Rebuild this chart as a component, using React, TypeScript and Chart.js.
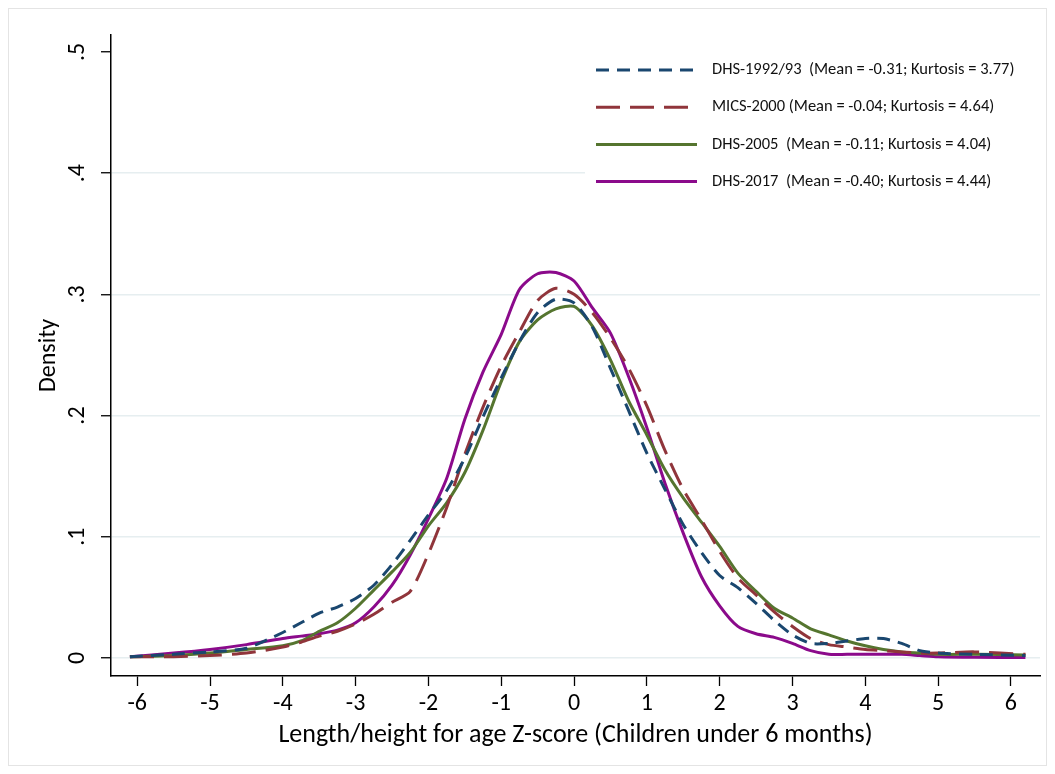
import React, { useEffect, useRef } from 'react';
import { Chart, registerables } from 'chart.js';
Chart.register(...registerables);

const zScores = [-6.1, -5.5, -5, -4.5, -4, -3.75, -3.5, -3.25, -3, -2.75, -2.5, -2.25, -2, -1.75, -1.5, -1.25, -1, -0.75, -0.5, -0.25, 0, 0.25, 0.5, 0.75, 1, 1.25, 1.5, 1.75, 2, 2.25, 2.5, 2.75, 3, 3.25, 3.5, 3.75, 4, 4.25, 4.5, 4.75, 5, 5.5, 6.2];

const dhs1992 = [0.001, 0.003, 0.005, 0.008, 0.021, 0.029, 0.037, 0.042, 0.049, 0.06, 0.077, 0.097, 0.118, 0.138, 0.165, 0.199, 0.231, 0.261, 0.285, 0.296, 0.293, 0.273, 0.239, 0.204, 0.169, 0.139, 0.110, 0.087, 0.068, 0.058, 0.045, 0.031, 0.019, 0.012, 0.012, 0.014, 0.016, 0.016, 0.012, 0.006, 0.004, 0.003, 0.002];
const mics2000 = [0.001, 0.001, 0.002, 0.004, 0.009, 0.013, 0.018, 0.022, 0.028, 0.036, 0.046, 0.055, 0.086, 0.124, 0.168, 0.207, 0.241, 0.269, 0.295, 0.305, 0.300, 0.285, 0.264, 0.239, 0.208, 0.171, 0.139, 0.114, 0.088, 0.066, 0.052, 0.038, 0.026, 0.016, 0.011, 0.009, 0.007, 0.006, 0.005, 0.004, 0.004, 0.005, 0.003];
const dhs2005 = [0.001, 0.002, 0.004, 0.007, 0.010, 0.014, 0.022, 0.029, 0.041, 0.056, 0.071, 0.087, 0.109, 0.128, 0.153, 0.188, 0.228, 0.261, 0.279, 0.288, 0.290, 0.274, 0.246, 0.212, 0.184, 0.155, 0.132, 0.112, 0.092, 0.070, 0.055, 0.041, 0.033, 0.024, 0.019, 0.014, 0.010, 0.007, 0.005, 0.004, 0.003, 0.003, 0.0025];
const dhs2017 = [0.001, 0.004, 0.007, 0.011, 0.016, 0.018, 0.020, 0.023, 0.029, 0.042, 0.060, 0.085, 0.115, 0.148, 0.197, 0.236, 0.267, 0.304, 0.317, 0.318, 0.311, 0.289, 0.268, 0.232, 0.190, 0.144, 0.103, 0.067, 0.043, 0.026, 0.020, 0.017, 0.012, 0.006, 0.003, 0.003, 0.003, 0.003, 0.003, 0.002, 0.001, 0.0005, 0.0003];

const seriesLabels = [
  'DHS-1992/93  (Mean = -0.31; Kurtosis = 3.77)',
  'MICS-2000 (Mean = -0.04; Kurtosis = 4.64)',
  'DHS-2005  (Mean = -0.11; Kurtosis = 4.04)',
  'DHS-2017  (Mean = -0.40; Kurtosis = 4.44)',
];

const xTicks = [-6, -5, -4, -3, -2, -1, 0, 1, 2, 3, 4, 5, 6];
const yTicks = [0, 0.1, 0.2, 0.3, 0.4, 0.5];
const yTickLabels = ['0', '.1', '.2', '.3', '.4', '.5'];

const xTitle = 'Length/height for age Z-score (Children under 6 months)';
const yTitle = 'Density';

const FONT = 'Carlito, Lato, sans-serif';

const frame = {
  id: 'frame',
  beforeDraw(chart: any) {
    const { ctx, width, height } = chart;
    ctx.save();
    ctx.fillStyle = '#ffffff';
    ctx.fillRect(0, 0, width, height);
    ctx.strokeStyle = '#e4e4e4';
    ctx.lineWidth = 1;
    ctx.strokeRect(8.5, 8.5, width - 17, height - 17);
    ctx.restore();
  },
};

const boxLegend = {
  id: 'boxLegend',
  beforeDatasetsDraw(chart: any) {
    const { ctx, chartArea } = chart;
    const left = chartArea.right - 455;
    ctx.save();
    ctx.fillStyle = '#ffffff';
    ctx.fillRect(left, chartArea.top + 17, 455, 143);
    chart.data.datasets.forEach((ds: any, i: number) => {
      const y = chartArea.top + 35 + i * 37.2;
      ctx.beginPath();
      ctx.strokeStyle = ds.borderColor;
      ctx.lineWidth = ds.borderWidth;
      ctx.setLineDash(ds.borderDash || []);
      ctx.moveTo(left + 11, y);
      ctx.lineTo(left + 112, y);
      ctx.stroke();
      ctx.setLineDash([]);
      ctx.fillStyle = '#111111';
      ctx.font = `16.5px ${FONT}`;
      ctx.textBaseline = 'middle';
      ctx.textAlign = 'left';
      ctx.fillText(ds.label, left + 127, y);
    });
    ctx.restore();
  },
};

export default function App() {
  const ref = useRef<HTMLCanvasElement>(null);
  useEffect(() => {
    if (!ref.current) return;
    const mk = (vals: number[]) => vals.map((v, i) => ({ x: zScores[i], y: v }));
    const chart = new Chart(ref.current, {
      type: 'line',
      data: {
        datasets: [
          { label: seriesLabels[0], data: mk(dhs1992), borderColor: '#1a476f', borderWidth: 3, borderDash: [13, 8], pointRadius: 0, tension: 0.25, fill: false },
          { label: seriesLabels[1], data: mk(mics2000), borderColor: '#90353b', borderWidth: 3, borderDash: [24, 10], pointRadius: 0, tension: 0.25, fill: false },
          { label: seriesLabels[2], data: mk(dhs2005), borderColor: '#55752f', borderWidth: 3, pointRadius: 0, tension: 0.25, fill: false },
          { label: seriesLabels[3], data: mk(dhs2017), borderColor: '#8b0a8b', borderWidth: 3, pointRadius: 0, tension: 0.25, fill: false },
        ],
      },
      options: {
        animation: false,
        responsive: false,
        devicePixelRatio: 1,
        layout: { padding: { left: 0, top: 35, right: 15, bottom: 0 } },
        plugins: { legend: { display: false }, tooltip: { enabled: false } },
        scales: {
          x: {
            type: 'linear',
            min: -6.36,
            max: 6.4,
            afterBuildTicks: (s: any) => { s.ticks = xTicks.map((v) => ({ value: v })); },
            afterFit: (s: any) => { s.height = 98; },
            grid: { display: true, drawOnChartArea: false, drawTicks: true, tickLength: 10, tickColor: '#000', tickWidth: 1.3 },
            border: { display: true, color: '#000', width: 1.5 },
            ticks: { color: '#000', font: { family: FONT, size: 24 }, padding: 4, maxRotation: 0, autoSkip: false, callback: (v: any) => String(v) },
            title: { display: true, text: xTitle, color: '#000', font: { family: FONT, size: 26 }, padding: { top: 0, bottom: 23 } },
          },
          y: {
            type: 'linear',
            min: -0.0149,
            max: 0.514,
            afterBuildTicks: (s: any) => { s.ticks = yTicks.map((v) => ({ value: v })); },
            afterFit: (s: any) => { s.width = 111; },
            grid: {
              display: true,
              drawOnChartArea: true,
              drawTicks: true,
              tickLength: 10,
              tickColor: '#000',
              tickWidth: 1.3,
              lineWidth: 1.5,
              color: (c: any) => (c.tick && c.tick.value >= 0.5 ? 'rgba(0,0,0,0)' : '#e6eef0'),
            },
            border: { display: true, color: '#000', width: 1.5 },
            ticks: {
              color: '#000',
              font: { family: FONT, size: 24 },
              minRotation: 90,
              maxRotation: 90,
              crossAlign: 'center',
              padding: 14,
              autoSkip: false,
              callback: (v: any) => { const i = yTicks.findIndex((t) => Math.abs(t - v) < 1e-9); return i >= 0 ? yTickLabels[i] : ''; },
            },
            title: { display: true, text: yTitle, color: '#000', font: { family: FONT, size: 24 }, padding: { top: 35, bottom: 0 } },
          },
        },
      },
      plugins: [frame, boxLegend],
    } as any);
    return () => chart.destroy();
  }, []);
  return (
    <div style={{ position: 'fixed', left: 0, top: 0, width: 1055, height: 774, background: '#fff' }}>
      <canvas ref={ref} width={1055} height={774} style={{ width: 1055, height: 774 }} />
    </div>
  );
}
